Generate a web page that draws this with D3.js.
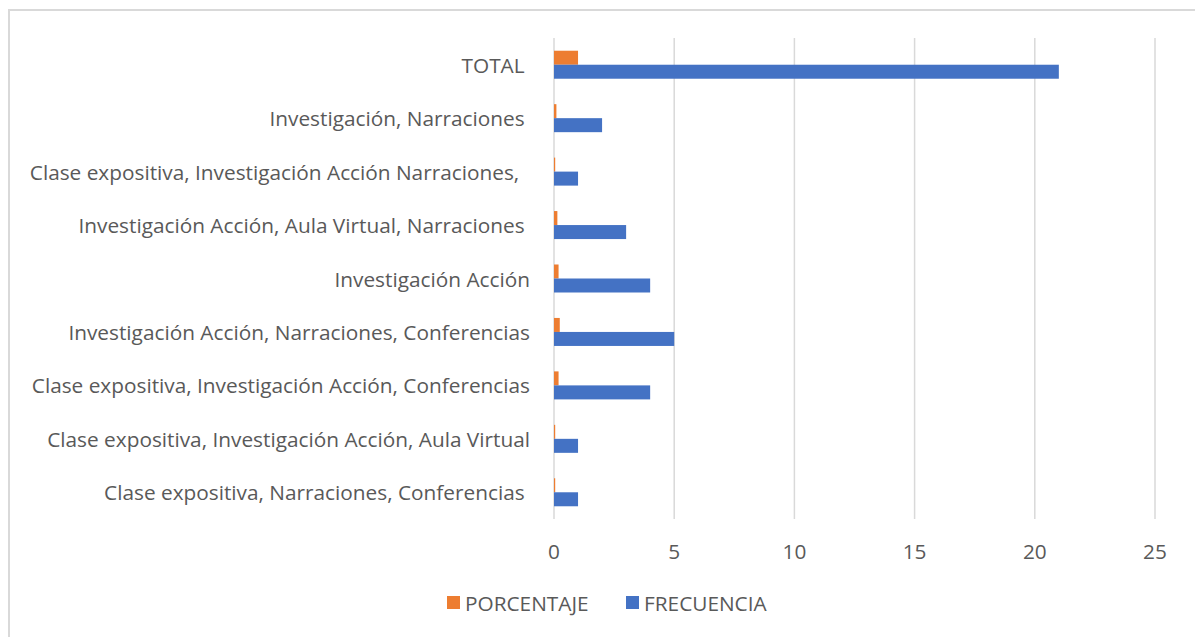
<!DOCTYPE html>
<html>
<head>
<meta charset="utf-8">
<script src="https://cdn.jsdelivr.net/npm/d3@7"></script>
<style>
  body { margin: 0; background: #fff; }
  text { font-family: "Open Sans", sans-serif; fill: #595959; white-space: pre; }
</style>
</head>
<body>
<svg id="chart" width="1195" height="637"></svg>
<script>
// categorias de abajo hacia arriba (como en el grafico)
const categorias = [
    "Clase expositiva, Narraciones, Conferencias ",
    "Clase expositiva, Investigación Acción, Aula Virtual",
    "Clase expositiva, Investigación Acción, Conferencias",
    "Investigación Acción, Narraciones, Conferencias",
    "Investigación Acción",
    "Investigación Acción, Aula Virtual, Narraciones ",
    "Clase expositiva, Investigación Acción Narraciones,  ",
    "Investigación, Narraciones ",
    "TOTAL "
]
const frecuencia = [1, 1, 4, 5, 4, 3, 1, 2, 21]
const porcentaje = [0.05, 0.05, 0.19, 0.24, 0.19, 0.14, 0.05, 0.1, 1]
const ticks = [0, 5, 10, 15, 20, 25]

const series = [
    {label: "PORCENTAJE", values: porcentaje, fill: "#ed7d31"},
    {label: "FRECUENCIA", values: frecuencia, fill: "#4472c4"}
]

const fontSize = "20.8px"
const svg = d3.select("#chart")

// marco
svg.append("rect")
    .attr("x", 9).attr("y", 10)
    .attr("width", 1300).attr("height", 700)
    .attr("fill", "none")
    .attr("stroke", "#d9d9d9")
    .attr("stroke-width", 2)

const plotTop = 38, plotBottom = 519
const x = d3.scaleLinear().domain([0, 25]).range([554, 1155])
const y = d3.scaleBand().domain(categorias.slice().reverse()).range([plotTop, plotBottom])
const sub = d3.scaleBand().domain(series.map(s => s.label)).range([0, 28])

// lineas de la cuadricula
svg.append("g")
    .selectAll("line")
    .data(ticks)
    .join("line")
    .attr("x1", d => x(d)).attr("x2", d => x(d))
    .attr("y1", plotTop).attr("y2", plotBottom)
    .attr("stroke", "#d9d9d9")
    .attr("stroke-width", 1.5)

// barras
series.forEach(s => {
    svg.append("g")
        .selectAll("rect")
        .data(categorias.map((c, i) => ({cat: c, v: s.values[i]})))
        .join("rect")
        .attr("x", x(0))
        .attr("y", d => y(d.cat) + y.bandwidth() / 2 - 14 + sub(s.label))
        .attr("width", d => x(d.v) - x(0))
        .attr("height", sub.bandwidth())
        .attr("fill", s.fill)
})

// etiquetas de categoria
svg.append("g")
    .selectAll("text")
    .data(categorias)
    .join("text")
    .attr("x", 530)
    .attr("y", d => y(d) + y.bandwidth() / 2)
    .attr("text-anchor", "end")
    .attr("dominant-baseline", "central")
    .style("font-size", fontSize)
    .text(d => d)

// etiquetas del eje x
svg.append("g")
    .selectAll("text")
    .data(ticks)
    .join("text")
    .attr("x", d => x(d))
    .attr("y", 551)
    .attr("text-anchor", "middle")
    .attr("dominant-baseline", "central")
    .style("font-size", fontSize)
    .text(d => d)

// leyenda
const legendX = [447, 626]
const leg = svg.append("g")
    .selectAll("g")
    .data(series)
    .join("g")
    .attr("transform", (d, i) => `translate(${legendX[i]},603)`)
leg.append("rect")
    .attr("x", 0).attr("y", -7)
    .attr("width", 13).attr("height", 13)
    .attr("fill", d => d.fill)
leg.append("text")
    .attr("x", 18).attr("y", 0)
    .attr("dominant-baseline", "central")
    .style("font-size", fontSize)
    .text(d => d.label)
</script>
</body>
</html>
